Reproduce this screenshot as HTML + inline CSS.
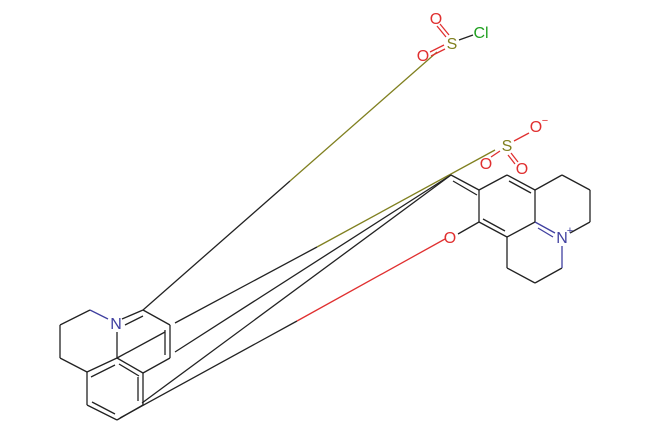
<!DOCTYPE html>
<html><head><style>
html,body{margin:0;padding:0;background:#fff;width:650px;height:433px;overflow:hidden}
svg text{font-family:"Liberation Sans",sans-serif;font-size:16px}
</style></head><body>
<svg width="650" height="433" viewBox="0 0 650 433" xmlns="http://www.w3.org/2000/svg">
<g stroke="#222" stroke-width="1.3" fill="none">
<!-- long bonds -->
<line x1="437" y1="52" x2="290" y2="181" stroke="#808020"/>
<line x1="290" y1="181" x2="143" y2="310"/>
<line x1="495" y1="150" x2="317" y2="247" stroke="#808020"/>
<line x1="317" y1="247" x2="175" y2="323"/>
<line x1="451" y1="175" x2="175" y2="352"/>
<line x1="451" y1="175" x2="142" y2="403"/>
<line x1="445" y1="239" x2="297" y2="321" stroke="#e03030"/>
<line x1="297" y1="321" x2="120" y2="418"/>
<!-- right core -->
<line x1="451" y1="175" x2="479" y2="190"/>
<line x1="453" y1="181" x2="477" y2="195"/>
<line x1="479" y1="190" x2="507" y2="175"/>
<line x1="507" y1="175" x2="535" y2="190"/>
<line x1="509" y1="181" x2="531" y2="193"/>
<line x1="535" y1="190" x2="535" y2="222"/>
<line x1="535" y1="222" x2="507" y2="237"/>
<line x1="507" y1="237" x2="479" y2="222"/>
<line x1="505" y1="231" x2="483" y2="219"/>
<line x1="479" y1="222" x2="479" y2="190"/>
<line x1="479" y1="222" x2="458" y2="234"/>
<line x1="535" y1="190" x2="562" y2="175"/>
<line x1="562" y1="175" x2="590" y2="190"/>
<line x1="590" y1="190" x2="590" y2="222"/>
<line x1="590" y1="222" x2="570" y2="233"/>
<line x1="507" y1="237" x2="507" y2="268"/>
<line x1="507" y1="268" x2="535" y2="283"/>
<line x1="535" y1="283" x2="562" y2="268"/>
<line x1="562" y1="268" x2="562" y2="246" stroke="#4040a0"/>
<line x1="535" y1="222" x2="555" y2="233" stroke="#4040a0"/>
<line x1="538" y1="228" x2="553" y2="237" stroke="#4040a0"/>
<!-- sulfonyls -->
<line x1="459" y1="40" x2="473" y2="35"/>
<line x1="449" y1="35" x2="440" y2="24" stroke="#e03030"/>
<line x1="446" y1="37" x2="437" y2="26" stroke="#e03030"/>
<line x1="444" y1="45" x2="430" y2="52" stroke="#e03030"/>
<line x1="445" y1="49" x2="431" y2="56" stroke="#e03030"/>
<line x1="514" y1="141" x2="529" y2="133" stroke="#e03030"/>
<line x1="500" y1="151" x2="491" y2="157" stroke="#e03030"/>
<line x1="511" y1="153" x2="518" y2="162" stroke="#e03030"/>
<line x1="508" y1="155" x2="515" y2="164" stroke="#e03030"/>
<!-- left part -->
<line x1="90" y1="310" x2="108" y2="319" stroke="#4040a0"/>
<line x1="90" y1="310" x2="60" y2="325"/>
<line x1="60" y1="325" x2="60" y2="358"/>
<line x1="60" y1="358" x2="87" y2="372"/>
<line x1="122" y1="319" x2="143" y2="310"/>
<line x1="125" y1="325" x2="143" y2="316"/>
<line x1="143" y1="310" x2="170" y2="325"/>
<line x1="170" y1="325" x2="170" y2="358"/>
<line x1="165" y1="330" x2="165" y2="355"/>
<line x1="170" y1="358" x2="143" y2="373"/>
<line x1="117" y1="332" x2="117" y2="358"/>
<line x1="117" y1="358" x2="165" y2="332"/>
<line x1="117" y1="358" x2="143" y2="373"/>
<line x1="119" y1="364" x2="139" y2="376"/>
<line x1="143" y1="373" x2="143" y2="405"/>
<line x1="138" y1="377" x2="138" y2="401"/>
<line x1="143" y1="405" x2="117" y2="420"/>
<line x1="117" y1="420" x2="87" y2="405"/>
<line x1="115" y1="414" x2="92" y2="402"/>
<line x1="87" y1="405" x2="87" y2="372"/>
<line x1="87" y1="372" x2="117" y2="358"/>
<line x1="91" y1="377" x2="115" y2="365"/>
</g>
<g text-anchor="middle">
<text x="452" y="49" fill="#808020">S</text>
<text x="481" y="38" fill="#20a020">Cl</text>
<text x="436" y="24" fill="#e03030">O</text>
<text x="423" y="61" fill="#e03030">O</text>
<text x="507" y="151" fill="#808020">S</text>
<text x="536" y="132" fill="#e03030">O</text>
<text x="545" y="124" fill="#e03030" style="font-size:11px">−</text>
<text x="486" y="169" fill="#e03030">O</text>
<text x="522" y="174" fill="#e03030">O</text>
<text x="450" y="243" fill="#e03030">O</text>
<text x="562" y="243" fill="#4040a0">N</text>
<text x="570" y="234" fill="#4040a0" style="font-size:11px">+</text>
<text x="116" y="329" fill="#4040a0">N</text>
</g>
</svg>
</body></html>
